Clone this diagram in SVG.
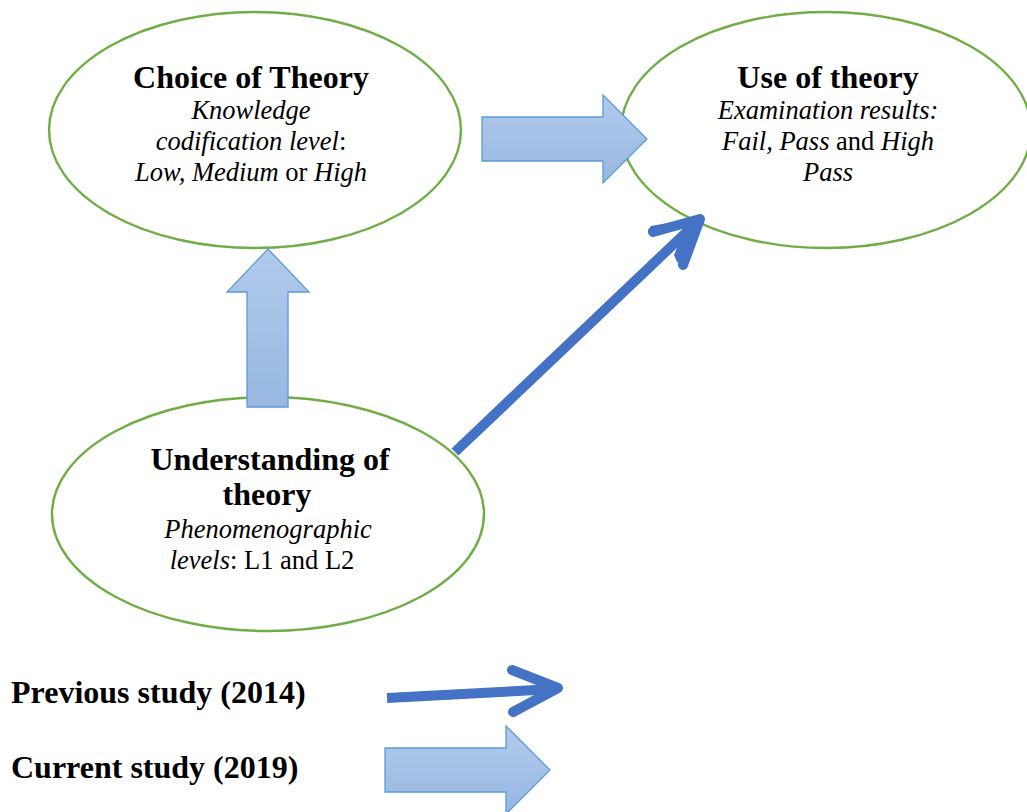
<svg xmlns="http://www.w3.org/2000/svg" width="1027" height="812" viewBox="0 0 1027 812">
<defs>
<linearGradient id="bg" x1="0" y1="0" x2="0" y2="1">
<stop offset="0" stop-color="#B0CAEB"/>
<stop offset="1" stop-color="#98B8E2"/>
</linearGradient>
<style>
.node{fill:#fff;stroke:#70AD47;stroke-width:2.4}
.t{font-family:"Liberation Serif","Times New Roman",serif;fill:#000;text-anchor:middle}
.h{font-size:32px;font-weight:bold}
.s{font-size:26.5px}
.i{font-style:italic}
.block{fill:url(#bg);stroke:#5B9BD5;stroke-width:1.3}
.line{fill:none;stroke:#4472C4;stroke-width:10}
.cap{fill:none;stroke:#4472C4;stroke-width:10;stroke-linecap:round;stroke-linejoin:round}
</style>
</defs>
<rect width="1027" height="812" fill="#fff"/>
<g id="node-choice">
<ellipse class="node" cx="255" cy="130" rx="206" ry="118"/>
<text class="t h" x="251" y="88">Choice of Theory</text>
<text class="t s i" x="251" y="119">Knowledge</text>
<text class="t s" x="251" y="150"><tspan class="i">codification level</tspan>:</text>
<text class="t s" x="251" y="181"><tspan class="i">Low, Medium</tspan> or <tspan class="i">High</tspan></text>
</g>
<g id="node-use">
<ellipse class="node" cx="826" cy="130" rx="205" ry="118"/>
<text class="t h" x="828" y="88">Use of theory</text>
<text class="t s i" x="828" y="119">Examination results:</text>
<text class="t s" x="828" y="150"><tspan class="i">Fail, Pass</tspan> and <tspan class="i">High</tspan></text>
<text class="t s i" x="828" y="181">Pass</text>
</g>
<g id="node-understanding">
<ellipse class="node" cx="268" cy="514" rx="216" ry="117"/>
<text class="t h" x="270" y="470">Understanding of</text>
<text class="t h" x="267" y="505">theory</text>
<text class="t s i" x="268" y="538">Phenomenographic</text>
<text class="t s" x="262" y="569"><tspan class="i">levels</tspan>: L1 and L2</text>
</g>
<g id="connectors">
<polygon class="block" points="482,117 603,117 603,95 647,139 603,183 603,161 482,161"/>
<polygon class="block" points="247,407 247,292 227,292 268,249 309,292 288,292 288,407"/>
<line class="line" x1="455" y1="452" x2="696" y2="223"/>
<polygon fill="#4472C4" points="702,217 690,258 683,265 677,262 674,255 686,226 655,236 650,236 648,230 651,226"/>
<path class="cap" d="M653,232 L700,219 L683,265"/>
</g>
<g id="legend">
<line class="line" x1="387" y1="698" x2="555" y2="689"/>
<path class="cap" d="M512,670 L558,688 L513,712"/>
<polygon fill="#4472C4" points="560,688 540,680 540,697"/>
<polygon class="block" points="385,748 506,748 506,726 550,770 506,814 506,792 385,792"/>
<text class="t h" x="11" y="703" style="text-anchor:start">Previous study (2014)</text>
<text class="t h" x="11" y="778" style="text-anchor:start">Current study (2019)</text>
</g>
</svg>
